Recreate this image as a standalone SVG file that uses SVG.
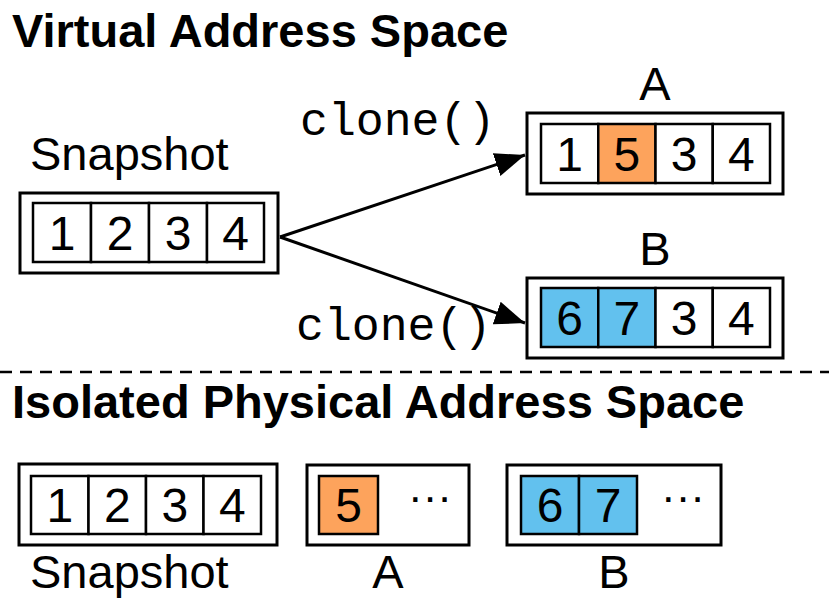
<svg xmlns="http://www.w3.org/2000/svg" width="829" height="598" viewBox="0 0 829 598">
  <style>
    .title { font-family: "Liberation Sans", Arial, sans-serif; font-weight: bold; font-size: 47px; fill: #000; }
    .label { font-family: "Liberation Sans", Arial, sans-serif; font-size: 47px; fill: #000; }
    .digit { font-family: "Liberation Sans", Arial, sans-serif; font-size: 48px; fill: #000; text-anchor: middle; }
    .dots { font-family: "Liberation Sans", Arial, sans-serif; font-size: 44px; fill: #000; text-anchor: middle; }
    .mono { font-family: "Liberation Mono", "Courier New", monospace; font-size: 46.5px; fill: #000; }
    .outer { fill: #fff; stroke: #000; stroke-width: 3; }
    .cell { fill: #fff; stroke: #000; stroke-width: 2.5; }
    .orange { fill: #FDA35C; }
    .blue { fill: #62C1EE; }
    .conn { stroke: #000; stroke-width: 3; fill: none; }
  </style>
  <defs>
    <marker id="arrow" markerWidth="10" markerHeight="8" refX="10" refY="4" orient="auto" markerUnits="strokeWidth">
      <path d="M0,0 L10,4 L0,8 Z" fill="#000"/>
    </marker>
  </defs>

  <!-- section headings -->
  <text class="title" x="12" y="47">Virtual Address Space</text>
  <line x1="0" y1="372" x2="829" y2="372" stroke="#000" stroke-width="2.5" stroke-dasharray="12,8"/>
  <text class="title" x="12" y="418">Isolated Physical Address Space</text>

  <!-- virtual: snapshot -->
  <g id="v-snapshot">
    <text class="label" x="30" y="170">Snapshot</text>
    <rect class="outer" x="20" y="193" width="258" height="80"/>
    <rect class="cell" x="33" y="203" width="58" height="59"/>
    <rect class="cell" x="91" y="203" width="58" height="59"/>
    <rect class="cell" x="149" y="203" width="58" height="59"/>
    <rect class="cell" x="207" y="203" width="57" height="59"/>
    <text class="digit" x="62" y="250">1</text>
    <text class="digit" x="120" y="250">2</text>
    <text class="digit" x="178" y="250">3</text>
    <text class="digit" x="235.5" y="250">4</text>
  </g>

  <!-- virtual: clone A -->
  <g id="v-a">
    <text class="label" x="655" y="100" text-anchor="middle">A</text>
    <rect class="outer" x="527" y="113" width="256" height="81"/>
    <rect class="cell" x="541" y="124" width="57.25" height="59"/>
    <rect class="cell orange" x="598.25" y="124" width="57.25" height="59"/>
    <rect class="cell" x="655.5" y="124" width="57.25" height="59"/>
    <rect class="cell" x="712.75" y="124" width="57.25" height="59"/>
    <text class="digit" x="569.6" y="171">1</text>
    <text class="digit" x="626.9" y="171">5</text>
    <text class="digit" x="684.1" y="171">3</text>
    <text class="digit" x="741.4" y="171">4</text>
  </g>

  <!-- virtual: clone B -->
  <g id="v-b">
    <text class="label" x="655" y="265" text-anchor="middle">B</text>
    <rect class="outer" x="527" y="278" width="256" height="80"/>
    <rect class="cell blue" x="541" y="288" width="57.25" height="59"/>
    <rect class="cell blue" x="598.25" y="288" width="57.25" height="59"/>
    <rect class="cell" x="655.5" y="288" width="57.25" height="59"/>
    <rect class="cell" x="712.75" y="288" width="57.25" height="59"/>
    <text class="digit" x="569.6" y="335">6</text>
    <text class="digit" x="626.9" y="335">7</text>
    <text class="digit" x="684.1" y="335">3</text>
    <text class="digit" x="741.4" y="335">4</text>
  </g>

  <!-- clone() connectors -->
  <g id="connectors">
    <line class="conn" x1="280" y1="237" x2="525" y2="155" marker-end="url(#arrow)"/>
    <line class="conn" x1="280" y1="237" x2="525" y2="323" marker-end="url(#arrow)"/>
    <text class="mono" x="300" y="135">clone()</text>
    <text class="mono" x="296" y="340">clone()</text>
  </g>

  <!-- physical: snapshot -->
  <g id="p-snapshot">
    <rect class="outer" x="19" y="464" width="258" height="81"/>
    <rect class="cell" x="31" y="476" width="57.5" height="58"/>
    <rect class="cell" x="88.5" y="476" width="57.5" height="58"/>
    <rect class="cell" x="146" y="476" width="57.5" height="58"/>
    <rect class="cell" x="203.5" y="476" width="57.5" height="58"/>
    <text class="digit" x="59.8" y="522">1</text>
    <text class="digit" x="117.3" y="522">2</text>
    <text class="digit" x="174.8" y="522">3</text>
    <text class="digit" x="232.3" y="522">4</text>
    <text class="label" x="30" y="588">Snapshot</text>
  </g>

  <!-- physical: A -->
  <g id="p-a">
    <rect class="outer" x="307" y="465" width="162" height="80"/>
    <rect class="cell orange" x="319" y="476" width="59" height="58"/>
    <text class="digit" x="348.5" y="522">5</text>
    <text class="dots" x="430" y="512">···</text>
    <text class="label" x="388" y="588" text-anchor="middle">A</text>
  </g>

  <!-- physical: B -->
  <g id="p-b">
    <rect class="outer" x="507" y="465" width="214" height="80"/>
    <rect class="cell blue" x="521" y="476" width="58" height="58"/>
    <rect class="cell blue" x="579" y="476" width="58" height="58"/>
    <text class="digit" x="550" y="522">6</text>
    <text class="digit" x="608" y="522">7</text>
    <text class="dots" x="683" y="512">···</text>
    <text class="label" x="614" y="588" text-anchor="middle">B</text>
  </g>
</svg>
